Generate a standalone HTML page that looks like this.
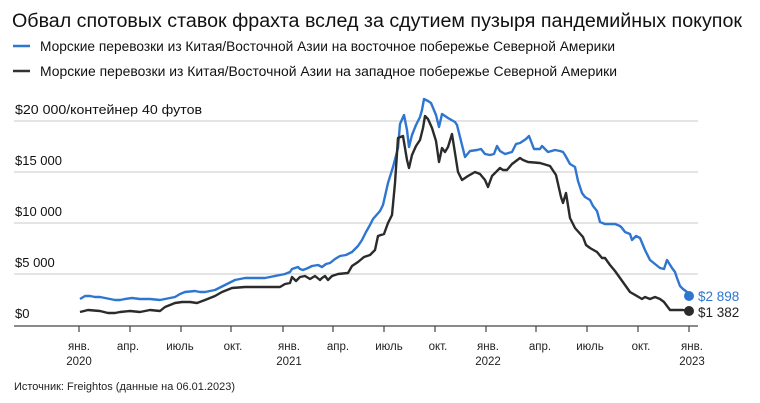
<!DOCTYPE html>
<html><head><meta charset="utf-8"><style>
body{margin:0;background:#fff;}
svg{display:block;font-family:"Liberation Sans","Noto Sans CJK SC",sans-serif;}
</style></head><body>
<svg width="760" height="403" viewBox="0 0 760 403">
<rect width="760" height="403" fill="#fff"/>
<text x="12" y="27" font-size="19" fill="#111" textLength="730" lengthAdjust="spacingAndGlyphs">Обвал спотовых ставок фрахта вслед за сдутием пузыря пандемийных покупок</text>
<line x1="13" y1="46" x2="30" y2="46" stroke="#2f76d0" stroke-width="2.5"/>
<text x="40" y="51" font-size="13.5" fill="#111" textLength="575" lengthAdjust="spacingAndGlyphs">Морские перевозки из Китая/Восточной Азии на восточное побережье Северной Америки</text>
<line x1="13" y1="71" x2="30" y2="71" stroke="#333" stroke-width="2.5"/>
<text x="40" y="76" font-size="13.5" fill="#111" textLength="577" lengthAdjust="spacingAndGlyphs">Морские перевозки из Китая/Восточной Азии на западное побережье Северной Америки</text>
<g stroke="#c8c8c8" stroke-width="1">
<line x1="14" y1="121" x2="698" y2="121"/><line x1="14" y1="172" x2="698" y2="172"/>
<line x1="14" y1="223" x2="698" y2="223"/><line x1="14" y1="274" x2="698" y2="274"/>
</g>
<line x1="14" y1="326" x2="698" y2="326" stroke="#444" stroke-width="1.2"/>
<g font-size="13" fill="#111">
<text x="15" y="114" textLength="187" lengthAdjust="spacingAndGlyphs">$20 000/контейнер 40 футов</text>
<text x="15" y="165">$15 000</text><text x="15" y="216">$10 000</text>
<text x="15" y="267">$5 000</text><text x="15" y="318">$0</text>
</g>
<g stroke="#444" stroke-width="1.2">
<line x1="79" y1="326" x2="79" y2="332"/><line x1="130" y1="326" x2="130" y2="332"/><line x1="181" y1="326" x2="181" y2="332"/><line x1="231" y1="326" x2="231" y2="332"/><line x1="283" y1="326" x2="283" y2="332"/><line x1="333" y1="326" x2="333" y2="332"/><line x1="384" y1="326" x2="384" y2="332"/><line x1="435" y1="326" x2="435" y2="332"/><line x1="486" y1="326" x2="486" y2="332"/><line x1="536" y1="326" x2="536" y2="332"/><line x1="587" y1="326" x2="587" y2="332"/><line x1="638" y1="326" x2="638" y2="332"/><line x1="689" y1="326" x2="689" y2="332"/>
</g>
<g font-size="11.5" fill="#222" text-anchor="middle">
<text x="79" y="350">янв.</text><text x="79" y="365">2020</text>
<text x="128" y="350">апр.</text><text x="180" y="350">июль</text><text x="233" y="350">окт.</text>
<text x="289" y="350">янв.</text><text x="289" y="365">2021</text>
<text x="338" y="350">апр.</text><text x="389" y="350">июль</text><text x="438" y="350">окт.</text>
<text x="488" y="350">янв.</text><text x="488" y="365">2022</text>
<text x="540" y="350">апр.</text><text x="590" y="350">июль</text><text x="641" y="350">окт.</text>
<text x="692" y="350">янв.</text><text x="692" y="365">2023</text>
</g>
<polyline fill="none" stroke="#2f76d0" stroke-width="2.4" stroke-linejoin="round" points="80,299 85,296 90,296 95,297 100,297 110,299 115,300 120,300 125,299 132,298 140,299 150,299 160,300 165,299 175,297 180,294 185,292 195,291 200,292 205,292 215,290 225,285 235,280 245,278 255,278 265,278 275,276 280,275 285,274 290,272 292,269 295,268 298,267 300,269 303,270 308,268 312,266 318,265 322,267 326,264 330,263 335,259 340,256 346,255 352,252 358,246 362,240 366,232 370,225 373,219 380,211 383,205 388,183 393,167 398,148 400,124 404,115 407,130 409,147 412,135 416,125 420,117 422,110 424,99 428,101 431,103 436,115 439,127 442,114 448,118 455,122 457,125 462,145 465,157 470,151 477,150 481,149 485,154 490,155 494,154 497,146 500,151 505,154 512,152 516,144 520,143 526,139 529,136 534,149 540,149 542,146 548,152 555,150 560,151 563,152 565,155 570,164 575,167 578,181 582,193 585,197 590,200 593,206 597,211 600,222 605,224 610,224 615,224 620,226 622,228 625,232 630,234 632,240 636,236 640,238 645,250 650,260 655,264 660,268 664,269 667,260 672,268 675,272 677,278 680,286 683,289 687,292 689,296"/>
<polyline fill="none" stroke="#2b2b2b" stroke-width="2.4" stroke-linejoin="round" points="80,312 88,310 100,311 108,313 115,313 120,312 130,311 140,312 150,310 160,311 165,307 175,303 182,302 190,302 197,303 205,300 215,296 222,292 232,288 245,287 260,287 275,287 280,287 285,284 290,283 292,277 296,281 300,277 305,276 310,279 315,276 320,280 322,278 325,276 328,280 332,276 338,274 348,273 352,266 358,262 364,257 370,255 375,250 378,236 384,234 388,223 392,215 395,183 398,138 403,136 407,160 409,168 412,155 416,146 420,140 423,128 425,116 428,119 432,128 436,141 439,162 442,148 445,152 448,147 452,134 458,172 462,180 468,176 475,172 480,174 485,180 488,187 492,176 500,168 503,170 507,170 512,164 520,158 523,160 528,162 540,163 550,166 556,175 561,197 563,203 566,193 570,218 575,228 583,237 586,245 590,248 597,252 602,258 605,258 610,265 615,271 620,278 625,285 630,292 642,299 645,297 650,299 655,297 660,299 664,302 670,310 677,310 683,310 689,311"/>
<circle cx="689" cy="296" r="5" fill="#2f76d0"/>
<circle cx="689" cy="311" r="5" fill="#2b2b2b"/>
<text x="698" y="301" font-size="13.5" fill="#2f76d0">$2 898</text>
<text x="698" y="317" font-size="13.5" fill="#222">$1 382</text>
<text x="14" y="390" font-size="11" fill="#222" textLength="221" lengthAdjust="spacingAndGlyphs">Источник: Freightos (данные на 06.01.2023)</text>
</svg>
</body></html>
